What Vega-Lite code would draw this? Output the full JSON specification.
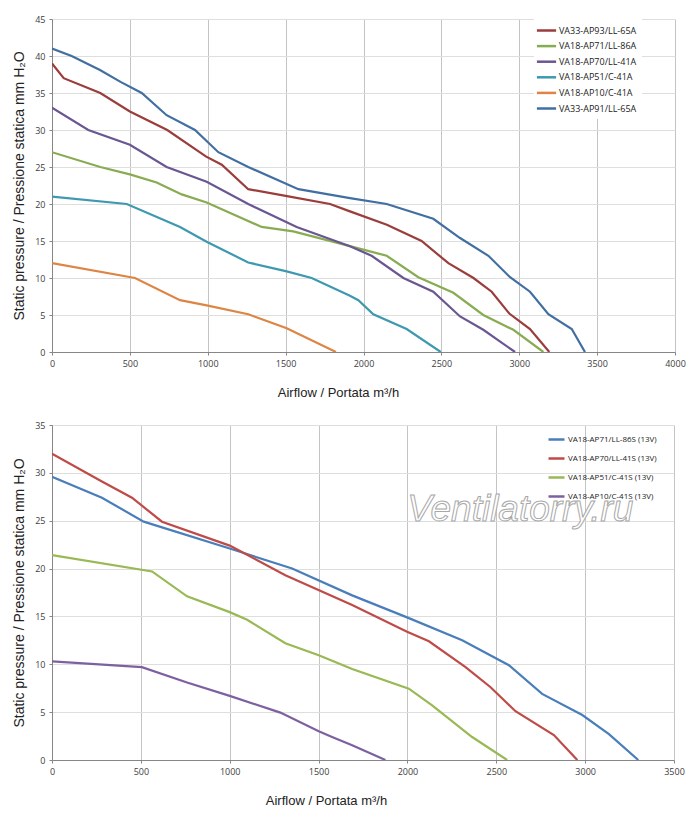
{
  "$schema": "https://vega.github.io/schema/vega-lite/v6.json",
  "padding": {"left": 12, "top": 15, "right": 5, "bottom": 5},
  "spacing": 22,
  "resolve": {"scale": {"color": "independent", "x": "independent", "y": "independent"}, "legend": {"color": "independent"}},
  "config": {
    "view": {"stroke": null},
    "font": "Liberation Sans",
    "axis": {
      "labelFont": "Open Sans", "labelFontSize": 9, "labelColor": "#404040",
      "titleFont": "Liberation Sans", "titleFontSize": 13, "titleFontWeight": "normal", "titleColor": "#222222",
      "domainColor": "#868686", "tickColor": "#868686", "tickSize": 3, "labelPadding": 4,
      "format": "d", "titleLimit": 1000, "labelOverlap": false, "labelFlush": false
    },
    "axisX": {"gridColor": "#C4C4C4"},
    "axisY": {"gridColor": "#DEDEDE", "titleFontSize": 14},
    "legend": {
      "labelFont": "Open Sans", "labelFontSize": 9, "labelColor": "#222222",
      "symbolType": "M-1.6,0H1.6", "symbolStrokeWidth": 2.5
    }
  },
  "datasets": {
    "top": [
      {"series": "VA33-AP93/LL-65A", "airflow": 0, "pressure": 39},
      {"series": "VA33-AP93/LL-65A", "airflow": 75, "pressure": 37},
      {"series": "VA33-AP93/LL-65A", "airflow": 310, "pressure": 35},
      {"series": "VA33-AP93/LL-65A", "airflow": 500, "pressure": 32.5},
      {"series": "VA33-AP93/LL-65A", "airflow": 740, "pressure": 30},
      {"series": "VA33-AP93/LL-65A", "airflow": 990, "pressure": 26.4},
      {"series": "VA33-AP93/LL-65A", "airflow": 1090, "pressure": 25.3},
      {"series": "VA33-AP93/LL-65A", "airflow": 1260, "pressure": 22},
      {"series": "VA33-AP93/LL-65A", "airflow": 1500, "pressure": 21.1},
      {"series": "VA33-AP93/LL-65A", "airflow": 1785, "pressure": 20},
      {"series": "VA33-AP93/LL-65A", "airflow": 1913, "pressure": 19},
      {"series": "VA33-AP93/LL-65A", "airflow": 2150, "pressure": 17.2},
      {"series": "VA33-AP93/LL-65A", "airflow": 2373, "pressure": 15},
      {"series": "VA33-AP93/LL-65A", "airflow": 2545, "pressure": 12},
      {"series": "VA33-AP93/LL-65A", "airflow": 2706, "pressure": 10},
      {"series": "VA33-AP93/LL-65A", "airflow": 2823, "pressure": 8.15},
      {"series": "VA33-AP93/LL-65A", "airflow": 2936, "pressure": 5.2},
      {"series": "VA33-AP93/LL-65A", "airflow": 3069, "pressure": 3.1},
      {"series": "VA33-AP93/LL-65A", "airflow": 3193, "pressure": 0},
      {"series": "VA18-AP71/LL-86A", "airflow": 0, "pressure": 27},
      {"series": "VA18-AP71/LL-86A", "airflow": 310, "pressure": 25},
      {"series": "VA18-AP71/LL-86A", "airflow": 500, "pressure": 24},
      {"series": "VA18-AP71/LL-86A", "airflow": 672, "pressure": 22.9},
      {"series": "VA18-AP71/LL-86A", "airflow": 833, "pressure": 21.3},
      {"series": "VA18-AP71/LL-86A", "airflow": 993, "pressure": 20.2},
      {"series": "VA18-AP71/LL-86A", "airflow": 1346, "pressure": 16.9},
      {"series": "VA18-AP71/LL-86A", "airflow": 1549, "pressure": 16.3},
      {"series": "VA18-AP71/LL-86A", "airflow": 1913, "pressure": 14.3},
      {"series": "VA18-AP71/LL-86A", "airflow": 2149, "pressure": 13},
      {"series": "VA18-AP71/LL-86A", "airflow": 2352, "pressure": 10.1},
      {"series": "VA18-AP71/LL-86A", "airflow": 2577, "pressure": 8},
      {"series": "VA18-AP71/LL-86A", "airflow": 2769, "pressure": 5},
      {"series": "VA18-AP71/LL-86A", "airflow": 2962, "pressure": 3},
      {"series": "VA18-AP71/LL-86A", "airflow": 3155, "pressure": 0},
      {"series": "VA18-AP70/LL-41A", "airflow": 0, "pressure": 33},
      {"series": "VA18-AP70/LL-41A", "airflow": 233, "pressure": 30},
      {"series": "VA18-AP70/LL-41A", "airflow": 500, "pressure": 28},
      {"series": "VA18-AP70/LL-41A", "airflow": 736, "pressure": 25},
      {"series": "VA18-AP70/LL-41A", "airflow": 993, "pressure": 23},
      {"series": "VA18-AP70/LL-41A", "airflow": 1260, "pressure": 20},
      {"series": "VA18-AP70/LL-41A", "airflow": 1571, "pressure": 16.9},
      {"series": "VA18-AP70/LL-41A", "airflow": 1913, "pressure": 14.3},
      {"series": "VA18-AP70/LL-41A", "airflow": 2052, "pressure": 13},
      {"series": "VA18-AP70/LL-41A", "airflow": 2256, "pressure": 10},
      {"series": "VA18-AP70/LL-41A", "airflow": 2448, "pressure": 8.15},
      {"series": "VA18-AP70/LL-41A", "airflow": 2620, "pressure": 4.8},
      {"series": "VA18-AP70/LL-41A", "airflow": 2769, "pressure": 3},
      {"series": "VA18-AP70/LL-41A", "airflow": 2973, "pressure": 0},
      {"series": "VA18-AP51/C-41A", "airflow": 0, "pressure": 21},
      {"series": "VA18-AP51/C-41A", "airflow": 480, "pressure": 20},
      {"series": "VA18-AP51/C-41A", "airflow": 822, "pressure": 16.9},
      {"series": "VA18-AP51/C-41A", "airflow": 993, "pressure": 14.9},
      {"series": "VA18-AP51/C-41A", "airflow": 1260, "pressure": 12.1},
      {"series": "VA18-AP51/C-41A", "airflow": 1507, "pressure": 10.9},
      {"series": "VA18-AP51/C-41A", "airflow": 1667, "pressure": 10},
      {"series": "VA18-AP51/C-41A", "airflow": 1913, "pressure": 7.6},
      {"series": "VA18-AP51/C-41A", "airflow": 1967, "pressure": 7},
      {"series": "VA18-AP51/C-41A", "airflow": 2063, "pressure": 5.1},
      {"series": "VA18-AP51/C-41A", "airflow": 2277, "pressure": 3.1},
      {"series": "VA18-AP51/C-41A", "airflow": 2496, "pressure": 0},
      {"series": "VA18-AP10/C-41A", "airflow": 0, "pressure": 12},
      {"series": "VA18-AP10/C-41A", "airflow": 533, "pressure": 10},
      {"series": "VA18-AP10/C-41A", "airflow": 822, "pressure": 7},
      {"series": "VA18-AP10/C-41A", "airflow": 993, "pressure": 6.3},
      {"series": "VA18-AP10/C-41A", "airflow": 1260, "pressure": 5.1},
      {"series": "VA18-AP10/C-41A", "airflow": 1507, "pressure": 3.2},
      {"series": "VA18-AP10/C-41A", "airflow": 1823, "pressure": 0},
      {"series": "VA33-AP91/LL-65A", "airflow": 0, "pressure": 41},
      {"series": "VA33-AP91/LL-65A", "airflow": 126, "pressure": 40},
      {"series": "VA33-AP91/LL-65A", "airflow": 308, "pressure": 38.1},
      {"series": "VA33-AP91/LL-65A", "airflow": 440, "pressure": 36.5},
      {"series": "VA33-AP91/LL-65A", "airflow": 576, "pressure": 35},
      {"series": "VA33-AP91/LL-65A", "airflow": 736, "pressure": 32},
      {"series": "VA33-AP91/LL-65A", "airflow": 918, "pressure": 30},
      {"series": "VA33-AP91/LL-65A", "airflow": 1068, "pressure": 27},
      {"series": "VA33-AP91/LL-65A", "airflow": 1260, "pressure": 25},
      {"series": "VA33-AP91/LL-65A", "airflow": 1582, "pressure": 22},
      {"series": "VA33-AP91/LL-65A", "airflow": 1913, "pressure": 20.8},
      {"series": "VA33-AP91/LL-65A", "airflow": 2149, "pressure": 20},
      {"series": "VA33-AP91/LL-65A", "airflow": 2448, "pressure": 18},
      {"series": "VA33-AP91/LL-65A", "airflow": 2620, "pressure": 15.4},
      {"series": "VA33-AP91/LL-65A", "airflow": 2802, "pressure": 13},
      {"series": "VA33-AP91/LL-65A", "airflow": 2941, "pressure": 10.1},
      {"series": "VA33-AP91/LL-65A", "airflow": 3069, "pressure": 8.15},
      {"series": "VA33-AP91/LL-65A", "airflow": 3187, "pressure": 5.1},
      {"series": "VA33-AP91/LL-65A", "airflow": 3337, "pressure": 3.1},
      {"series": "VA33-AP91/LL-65A", "airflow": 3422, "pressure": 0}
    ],
    "bottom": [
      {"series": "VA18-AP71/LL-86S (13V)", "airflow": 0, "pressure": 29.6},
      {"series": "VA18-AP71/LL-86S (13V)", "airflow": 281, "pressure": 27.4},
      {"series": "VA18-AP71/LL-86S (13V)", "airflow": 516, "pressure": 24.9},
      {"series": "VA18-AP71/LL-86S (13V)", "airflow": 1000, "pressure": 22.1},
      {"series": "VA18-AP71/LL-86S (13V)", "airflow": 1351, "pressure": 20},
      {"series": "VA18-AP71/LL-86S (13V)", "airflow": 1689, "pressure": 17.2},
      {"series": "VA18-AP71/LL-86S (13V)", "airflow": 1998, "pressure": 14.9},
      {"series": "VA18-AP71/LL-86S (13V)", "airflow": 2308, "pressure": 12.5},
      {"series": "VA18-AP71/LL-86S (13V)", "airflow": 2571, "pressure": 9.9},
      {"series": "VA18-AP71/LL-86S (13V)", "airflow": 2758, "pressure": 6.9},
      {"series": "VA18-AP71/LL-86S (13V)", "airflow": 2984, "pressure": 4.7},
      {"series": "VA18-AP71/LL-86S (13V)", "airflow": 3134, "pressure": 2.7},
      {"series": "VA18-AP71/LL-86S (13V)", "airflow": 3299, "pressure": 0},
      {"series": "VA18-AP70/LL-41S (13V)", "airflow": 0, "pressure": 32},
      {"series": "VA18-AP70/LL-41S (13V)", "airflow": 281, "pressure": 29.1},
      {"series": "VA18-AP70/LL-41S (13V)", "airflow": 450, "pressure": 27.4},
      {"series": "VA18-AP70/LL-41S (13V)", "airflow": 619, "pressure": 24.9},
      {"series": "VA18-AP70/LL-41S (13V)", "airflow": 1000, "pressure": 22.4},
      {"series": "VA18-AP70/LL-41S (13V)", "airflow": 1313, "pressure": 19.3},
      {"series": "VA18-AP70/LL-41S (13V)", "airflow": 1689, "pressure": 16.2},
      {"series": "VA18-AP70/LL-41S (13V)", "airflow": 1998, "pressure": 13.4},
      {"series": "VA18-AP70/LL-41S (13V)", "airflow": 2121, "pressure": 12.4},
      {"series": "VA18-AP70/LL-41S (13V)", "airflow": 2327, "pressure": 9.7},
      {"series": "VA18-AP70/LL-41S (13V)", "airflow": 2468, "pressure": 7.6},
      {"series": "VA18-AP70/LL-41S (13V)", "airflow": 2608, "pressure": 5.1},
      {"series": "VA18-AP70/LL-41S (13V)", "airflow": 2824, "pressure": 2.6},
      {"series": "VA18-AP70/LL-41S (13V)", "airflow": 2956, "pressure": 0},
      {"series": "VA18-AP51/C-41S (13V)", "airflow": 0, "pressure": 21.4},
      {"series": "VA18-AP51/C-41S (13V)", "airflow": 563, "pressure": 19.7},
      {"series": "VA18-AP51/C-41S (13V)", "airflow": 760, "pressure": 17.1},
      {"series": "VA18-AP51/C-41S (13V)", "airflow": 1000, "pressure": 15.45},
      {"series": "VA18-AP51/C-41S (13V)", "airflow": 1098, "pressure": 14.65},
      {"series": "VA18-AP51/C-41S (13V)", "airflow": 1313, "pressure": 12.2},
      {"series": "VA18-AP51/C-41S (13V)", "airflow": 1501, "pressure": 10.95},
      {"series": "VA18-AP51/C-41S (13V)", "airflow": 1689, "pressure": 9.5},
      {"series": "VA18-AP51/C-41S (13V)", "airflow": 2008, "pressure": 7.45},
      {"series": "VA18-AP51/C-41S (13V)", "airflow": 2139, "pressure": 5.7},
      {"series": "VA18-AP51/C-41S (13V)", "airflow": 2364, "pressure": 2.4},
      {"series": "VA18-AP51/C-41S (13V)", "airflow": 2561, "pressure": 0},
      {"series": "VA18-AP10/C-41S (13V)", "airflow": 0, "pressure": 10.3},
      {"series": "VA18-AP10/C-41S (13V)", "airflow": 506, "pressure": 9.7},
      {"series": "VA18-AP10/C-41S (13V)", "airflow": 760, "pressure": 8.1},
      {"series": "VA18-AP10/C-41S (13V)", "airflow": 1000, "pressure": 6.7},
      {"series": "VA18-AP10/C-41S (13V)", "airflow": 1285, "pressure": 4.95},
      {"series": "VA18-AP10/C-41S (13V)", "airflow": 1501, "pressure": 3.0},
      {"series": "VA18-AP10/C-41S (13V)", "airflow": 1576, "pressure": 2.4},
      {"series": "VA18-AP10/C-41S (13V)", "airflow": 1689, "pressure": 1.55},
      {"series": "VA18-AP10/C-41S (13V)", "airflow": 1876, "pressure": 0}
    ],
    "watermark": [
      {"label": "Ventilatorry.ru", "airflow": 2635, "pressure": 25.0}
    ]
  },
  "vconcat": [
    {
      "width": 623,
      "height": 333,
      "data": {"name": "top"},
      "mark": {"type": "line", "strokeWidth": 2.2, "clip": true},
      "encoding": {
        "x": {
          "field": "airflow", "type": "quantitative",
          "scale": {"domain": [0, 4000], "nice": false},
          "axis": {"values": [0, 500, 1000, 1500, 2000, 2500, 3000, 3500, 4000], "title": "Airflow / Portata  m³/h", "titlePadding": 18, "titleX": 286}
        },
        "y": {
          "field": "pressure", "type": "quantitative",
          "scale": {"domain": [0, 45], "nice": false},
          "axis": {"values": [0, 5, 10, 15, 20, 25, 30, 35, 40, 45], "title": "Static pressure / Pressione statica  mm  H₂O", "titlePadding": 8}
        },
        "color": {
          "field": "series", "type": "nominal",
          "scale": {
            "domain": ["VA33-AP93/LL-65A", "VA18-AP71/LL-86A", "VA18-AP70/LL-41A", "VA18-AP51/C-41A", "VA18-AP10/C-41A", "VA33-AP91/LL-65A"],
            "range": ["#9A3D3B", "#88AC52", "#6A5792", "#3E99B0", "#DD8545", "#416FA2"]
          },
          "legend": {"title": null, "orient": "none", "legendX": 482, "legendY": -1, "padding": 5, "fillColor": "white", "rowPadding": 2.6, "symbolSize": 144, "labelOffset": 5}
        }
      }
    },
    {
      "width": 622,
      "height": 335,
      "resolve": {"scale": {"color": "independent"}},
      "layer": [
        {
          "data": {"name": "bottom"},
          "mark": {"type": "line", "strokeWidth": 2.2, "clip": true},
          "encoding": {
            "x": {
              "field": "airflow", "type": "quantitative",
              "scale": {"domain": [0, 3500], "nice": false},
              "axis": {"values": [0, 500, 1000, 1500, 2000, 2500, 3000, 3500], "title": "Airflow / Portata  m³/h", "titlePadding": 18, "titleX": 274}
            },
            "y": {
              "field": "pressure", "type": "quantitative",
              "scale": {"domain": [0, 35], "nice": false},
              "axis": {"values": [0, 5, 10, 15, 20, 25, 30, 35], "title": "Static pressure / Pressione statica  mm  H₂O", "titlePadding": 8}
            },
            "color": {
              "field": "series", "type": "nominal",
              "scale": {
                "domain": ["VA18-AP71/LL-86S (13V)", "VA18-AP70/LL-41S (13V)", "VA18-AP51/C-41S (13V)", "VA18-AP10/C-41S (13V)"],
                "range": ["#4A7EBB", "#BE4B48", "#98B954", "#7D60A0"]
              },
              "legend": {"title": null, "orient": "none", "legendX": 495, "legendY": 5, "padding": 3, "rowPadding": 7, "symbolSize": 100, "labelOffset": 5, "labelFontSize": 8}
            }
          }
        },
        {
          "data": {"name": "watermark"},
          "mark": {"type": "text", "font": "Liberation Sans", "fontSize": 37, "fontStyle": "italic", "fill": "white", "stroke": "#A8A8A8", "strokeWidth": 1, "align": "center", "baseline": "alphabetic"},
          "encoding": {
            "x": {"field": "airflow", "type": "quantitative"},
            "y": {"field": "pressure", "type": "quantitative"},
            "text": {"field": "label"}
          }
        }
      ]
    }
  ]
}
